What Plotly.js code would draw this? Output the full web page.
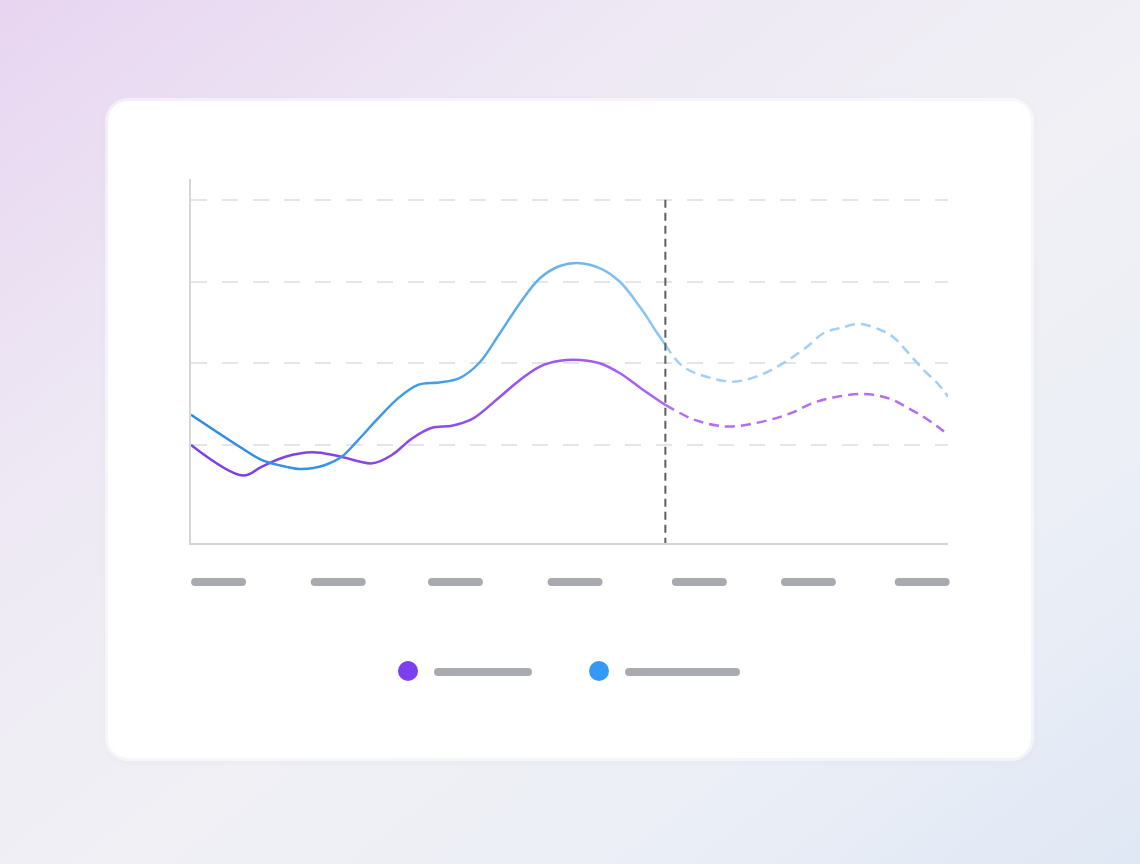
<!DOCTYPE html>
<html>
<head>
<meta charset="utf-8">
<script src="https://cdn.plot.ly/plotly-3.0.1.min.js"></script>
<style>
  html, body { margin: 0; padding: 0; }
  body {
    width: 1140px; height: 864px; overflow: hidden; position: relative;
    background: linear-gradient(to bottom right, #e8d5f1 0%, #eee9f4 30%, #f0f0f5 55%, #eceff6 75%, #e0e8f5 100%);
    font-family: "Noto Sans", sans-serif;
  }
  #card {
    position: absolute; left: 108px; top: 101px; width: 923px; height: 657px;
    background: #fff; border-radius: 20px;
    box-shadow: 0 0 0 3px rgba(255,255,255,0.55), 0 2px 12px rgba(120,110,160,0.06);
  }
  #myDiv { position: absolute; left: 0; top: 0; width: 1140px; height: 864px; }
</style>
</head>
<body>
<div id="card"></div>
<div id="myDiv"></div>
<script>
//  ======== DATA ========
var tickPos = [0, 1.02, 2.02, 3.04, 4.10, 5.03, 6.00];
var splitX = 3.81;

var blueActualX = [-0.235, 0.20, 0.37, 0.57, 0.71, 0.91, 1.05, 1.19, 1.36, 1.53, 1.70, 1.88, 2.05, 2.22,
                   2.40, 2.57, 2.74, 2.91, 3.08, 3.25, 3.42, 3.60, 3.74, 3.81];
var blueActualY = [27.4, 19.2, 16.3, 14.7, 14.1, 15.1, 17.1, 21.2, 26.5, 31.4, 34.7, 35.3, 36.3, 40.0,
                   47.4, 54.7, 60.8, 63.8, 64.5, 63.3, 60.0, 53.5, 47.4, 44.5];

var purpleActualX = [-0.235, 0.21, 0.37, 0.57, 0.80, 1.02, 1.31, 1.48, 1.65, 1.82, 1.99, 2.16,
                     2.40, 2.57, 2.74, 2.91, 3.08, 3.25, 3.42, 3.60, 3.81];
var purpleActualY = [20.0, 12.5, 14.7, 17.1, 18.2, 17.3, 15.5, 17.6, 21.6, 24.2, 24.7, 26.3,
                     31.8, 35.9, 39.2, 40.6, 40.8, 40.0, 37.6, 33.9, 29.8];

var blueForecastX = [3.81, 3.96, 4.16, 4.39, 4.62, 4.82, 5.02, 5.16, 5.30, 5.47, 5.64, 5.75, 5.87, 6.01, 6.13, 6.22];
var blueForecastY = [44.5, 39.2, 36.7, 35.5, 37.1, 40.1, 44.1, 47.4, 48.6, 49.6, 48.2, 46.5, 42.9, 38.4, 35.1, 31.8];

var purpleForecastX = [3.81, 4.02, 4.16, 4.36, 4.68, 4.88, 5.07, 5.24, 5.47, 5.64, 5.75, 5.87, 6.01, 6.13, 6.22];
var purpleForecastY = [29.8, 26.6, 25.3, 24.5, 26.0, 27.8, 30.3, 31.6, 32.5, 32.0, 31.0, 29.2, 26.9, 24.5, 22.5];

var gridVals = [20, 40, 60, 80];
var xRange = [-0.235, 6.22];
var yRange = [-4.0, 85.1];

//  ======== LAYOUT HELPERS ========
// plot area in page pixels: left 191, right 948, top 179, bottom 543
var PL = 191, PR = 948, PT = 179, PB = 543;
function px(x) { return (x - PL) / (PR - PL); }
function py(y) { return (PB - y) / (PB - PT); }
function xDom(v) { return (v - xRange[0]) / (xRange[1] - xRange[0]); }

var barGray = '#a9a9b0';

function curve(x, y, color, dash) {
  return {
    x: x, y: y,
    mode: 'lines', type: 'scatter',
    line: { color: color, width: 2.5, dash: dash, shape: 'spline', smoothing: 1, simplify: false },
    hoverinfo: 'skip'
  };
}

//  ======== TRACES ========
var data = [
  curve(purpleForecastX, purpleForecastY, '#b46cf1', '10px,6px'),
  curve(blueForecastX, blueForecastY, '#a3cff2', '10px,6px'),
  curve(purpleActualX, purpleActualY, '#8a4be8', 'solid'),
  curve(blueActualX, blueActualY, '#4aa0e8', 'solid')
];

//  ======== SHAPES ========
var shapes = [];

// forecast divider
shapes.push({
  type: 'line', xref: 'x', yref: 'y',
  x0: splitX, x1: splitX, y0: 80, y1: yRange[0],
  line: { color: '#5b5e64', width: 2, dash: '8px,5px' }
});

// placeholder tick labels (x domain ref so the last one is not clipped)
tickPos.forEach(function(t) {
  shapes.push({
    type: 'line', xref: 'x domain', yref: 'paper',
    x0: xDom(t - 0.2), x1: xDom(t + 0.2), y0: py(582), y1: py(582),
    line: { color: barGray, width: 8 }
  });
});

// legend: dot + placeholder label
var legendItems = [
  { color: '#7b3ff0', cx: 408, barFrom: 438, barTo: 528 },
  { color: '#3399f5', cx: 599, barFrom: 629, barTo: 736 }
];
legendItems.forEach(function(it) {
  shapes.push({
    type: 'circle', xref: 'paper', yref: 'paper',
    x0: px(it.cx - 10), x1: px(it.cx + 10), y0: py(681), y1: py(661),
    fillcolor: it.color, line: { width: 0 }
  });
  shapes.push({
    type: 'line', xref: 'paper', yref: 'paper',
    x0: px(it.barFrom), x1: px(it.barTo), y0: py(672), y1: py(672),
    line: { color: barGray, width: 8 }
  });
});

var layout = {
  width: 1140, height: 864,
  margin: { l: PL, r: 1140 - PR, t: PT, b: 864 - PB, pad: 0 },
  showlegend: false,
  xaxis: {
    range: xRange,
    showgrid: false, zeroline: false,
    showticklabels: false, ticks: '',
    showline: true, linecolor: '#d4d4d9', linewidth: 2
  },
  yaxis: {
    range: yRange,
    tickvals: gridVals,
    showticklabels: false, ticks: '',
    showgrid: true, gridcolor: '#e4e4e9', gridwidth: 2, griddash: '16px,15px',
    zeroline: false,
    showline: true, linecolor: '#d4d4d9', linewidth: 2
  },
  shapes: shapes,
  plot_bgcolor: 'rgba(0,0,0,0)',
  paper_bgcolor: 'rgba(0,0,0,0)'
};

//  ======== GRADIENT STROKES ========
function addGradient(svg, id, stops) {
  var ns = 'http://www.w3.org/2000/svg';
  var defs = svg.querySelector('defs') || svg.insertBefore(document.createElementNS(ns, 'defs'), svg.firstChild);
  var g = document.createElementNS(ns, 'linearGradient');
  g.setAttribute('id', id);
  g.setAttribute('x1', '0'); g.setAttribute('x2', '1');
  g.setAttribute('y1', '0'); g.setAttribute('y2', '0');
  stops.forEach(function(s) {
    var st = document.createElementNS(ns, 'stop');
    st.setAttribute('offset', s[0]);
    st.setAttribute('stop-color', s[1]);
    g.appendChild(st);
  });
  defs.appendChild(g);
}

Plotly.newPlot('myDiv', data, layout, { displayModeBar: false, staticPlot: true }).then(function(gd) {
  var svg = gd.querySelector('.main-svg');
  addGradient(svg, 'gradPurple', [[0, '#7a3de2'], [0.5, '#8b4ae9'], [1, '#ab63f2']]);
  addGradient(svg, 'gradBlue', [[0, '#2b8ae0'], [0.5, '#3f9de8'], [0.8, '#6cb5ee'], [1, '#8ec8f3']]);
  var traces = gd.querySelectorAll('.scatterlayer .trace');
  traces[2].querySelector('.js-line').style.stroke = 'url(#gradPurple)';
  traces[3].querySelector('.js-line').style.stroke = 'url(#gradBlue)';

  // rounded ends on the placeholder bars
  gd.querySelectorAll('.shapelayer path').forEach(function(p) {
    if (p.style.strokeWidth === '8px') p.style.strokeLinecap = 'round';
  });
});
</script>
</body>
</html>
